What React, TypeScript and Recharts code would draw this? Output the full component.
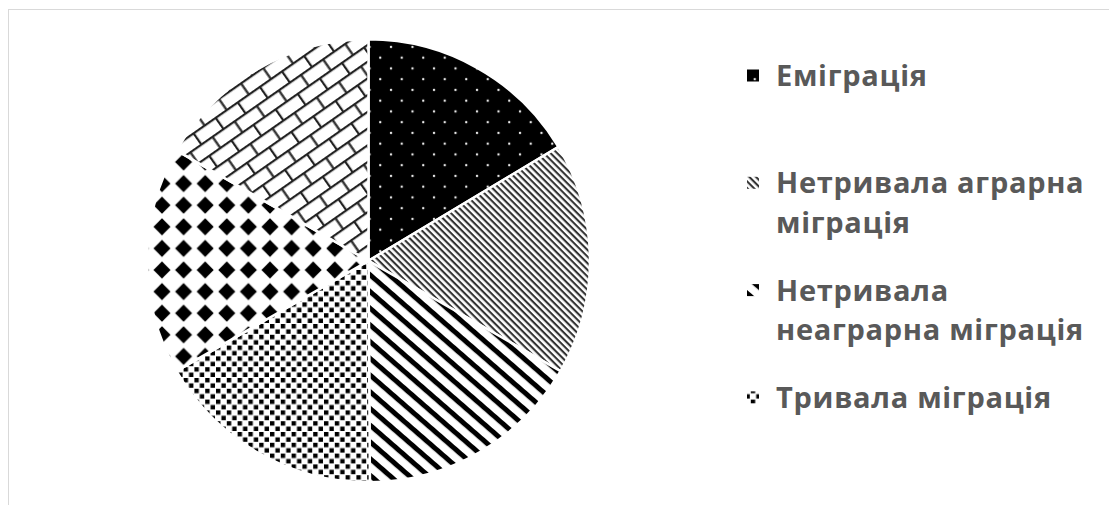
import React from 'react';
import { PieChart, Pie, Cell, Legend } from 'recharts';

// ---- data ----
const categories = [
  'Еміграція',
  'Нетривала аграрна міграція',
  'Нетривала неаграрна міграція',
  'Тривала міграція',
  'Сезонна міграція',
  'Маятникова міграція',
];
const shares = [16.4, 16.9, 16.6, 16.8, 16.6, 16.7];
const patternIds = ['pEmig', 'pAgr', 'pNonAgr', 'pLong', 'pDiam', 'pBrick'];
// legend text as wrapped in the reference (only the first four entries fit)
const legendLines = [
  ['Еміграція'],
  ['Нетривала аграрна', 'міграція'],
  ['Нетривала', 'неаграрна міграція'],
  ['Тривала міграція'],
];

const data = categories.map((name, i) => ({ name, value: shares[i] }));

const FONT = '"Open Sans", "Noto Sans", sans-serif';
const TEXT = '#595959';
const LEG_LEFT = 740;

const Patterns = () => (
  <svg width={0} height={0} style={{ position: 'absolute' }}>
    <defs>
      <pattern id="pEmig" patternUnits="userSpaceOnUse" width={21.5} height={21.5}>
        <rect width={21.5} height={21.5} fill="#000" />
        <circle cx={4} cy={4} r={1.2} fill="#eee" />
        <circle cx={14.75} cy={14.75} r={1.2} fill="#eee" />
      </pattern>
      <pattern id="pAgr" patternUnits="userSpaceOnUse" width={10} height={4.7} patternTransform="rotate(45)">
        <rect width={10} height={4.7} fill="#fff" />
        <rect y={0} width={10} height={2.1} fill="#333" />
      </pattern>
      <pattern id="pNonAgr" patternUnits="userSpaceOnUse" width={10} height={12.6} patternTransform="rotate(41)">
        <rect width={10} height={12.6} fill="#fff" />
        <rect y={0} width={10} height={5} fill="#000" />
      </pattern>
      <pattern id="pLong" patternUnits="userSpaceOnUse" width={10.8} height={10.8}>
        <rect width={10.8} height={10.8} fill="#fff" />
        <rect x={0} y={0} width={4.4} height={4.4} fill="#000" />
        <rect x={5.4} y={5.4} width={4.4} height={4.4} fill="#000" />
      </pattern>
      <pattern id="pDiam" patternUnits="userSpaceOnUse" width={21.6} height={21.6}>
        <rect width={21.6} height={21.6} fill="#fff" />
        <polygon points="10.8,2.3 19.3,10.8 10.8,19.3 2.3,10.8" fill="#000" />
      </pattern>
      <pattern id="pBrick" patternUnits="userSpaceOnUse" width={27} height={27.4} patternTransform="rotate(-35)">
        <rect width={27} height={27.4} fill="#fff" />
        <rect x={0} y={0} width={27} height={2.2} fill="#222" />
        <rect x={0} y={13.7} width={27} height={2.2} fill="#222" />
        <rect x={0} y={0} width={2.2} height={13.7} fill="#222" />
        <rect x={13.5} y={13.7} width={2.2} height={13.7} fill="#222" />
      </pattern>
    </defs>
  </svg>
);

const renderLegend = (props: any) => {
  const payload = (props.payload || []).slice(0, legendLines.length);
  const firstBaseline = 86;
  const entryStep = 107.3;
  const lineStep = 39.5;
  return (
    <svg width={369} height={440} style={{ display: 'block', overflow: 'visible' }}>
      {payload.map((entry: any, i: number) => {
        const base = firstBaseline + i * entryStep;
        const lines = legendLines[i];
        return (
          <g key={`leg-${i}`}>
            <rect x={747 - LEG_LEFT} y={base - 16.5} width={12} height={12} fill={`url(#${patternIds[i]})`} />
            <text x={776 - LEG_LEFT} y={base} fill={TEXT} fontFamily={FONT} fontWeight={700} fontSize={29} letterSpacing={0.7}>
              {lines.map((ln, j) => (
                <tspan key={j} x={776 - LEG_LEFT} y={base + j * lineStep}>{ln}</tspan>
              ))}
            </text>
          </g>
        );
      })}
    </svg>
  );
};

export default function App() {
  return (
    <div style={{ position: 'absolute', left: 0, top: 0, width: 1109, height: 505, overflow: 'hidden', background: '#fff' }}>
      <Patterns />
      <div style={{ position: 'absolute', left: 8, top: 9, width: 1300, height: 700, border: '1px solid #d9d9d9' }} />
      <div style={{ position: 'absolute', left: 0, top: 0 }}>
        <PieChart width={1109} height={505} margin={{ top: 0, right: 0, bottom: 0, left: 0 }}>
          <Pie
            data={data}
            dataKey="value"
            nameKey="name"
            cx={368.5}
            cy={260.8}
            outerRadius={221.5}
            startAngle={90}
            endAngle={-270}
            stroke="#fff"
            strokeWidth={2.5}
            isAnimationActive={false}
          >
            {data.map((d, i) => (
              <Cell key={d.name} fill={`url(#${patternIds[i]})`} />
            ))}
          </Pie>
          <Legend
            layout="vertical"
            align="right"
            verticalAlign="middle"
            content={renderLegend}
            wrapperStyle={{ position: 'absolute', left: LEG_LEFT, top: 0, width: 369, height: 440 }}
          />
        </PieChart>
      </div>
    </div>
  );
}
